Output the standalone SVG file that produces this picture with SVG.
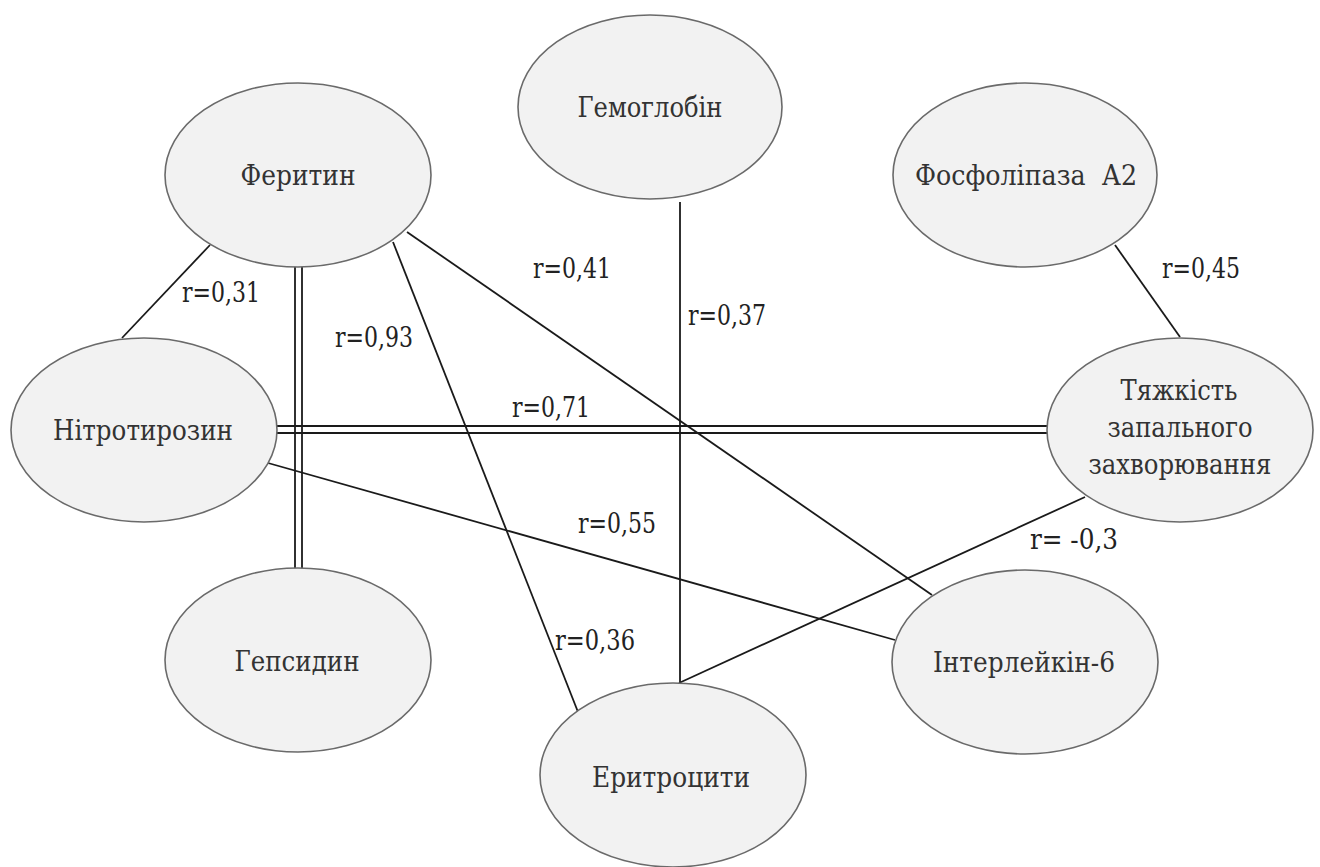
<svg xmlns="http://www.w3.org/2000/svg" width="1320" height="867" viewBox="0 0 1320 867">
<style>
.node ellipse{fill:#f2f2f2;stroke:#6a6a6a;stroke-width:1.6}
.node text{font-family:'DejaVu Serif',serif;font-size:27px;fill:#333;text-anchor:middle}
.edge{stroke:#1a1a1a;stroke-width:1.8;fill:none}
.lbl{font-family:'DejaVu Serif',serif;font-size:27px;fill:#222}
</style>
<rect width="1320" height="867" fill="#fff"/>
<g id="connectors">
<line class="edge" x1="210" y1="245" x2="122" y2="338"/>
<line class="edge" x1="295" y1="266" x2="295" y2="569"/>
<line class="edge" x1="302" y1="266" x2="302" y2="569"/>
<line class="edge" x1="393" y1="242" x2="578" y2="712"/>
<line class="edge" x1="407" y1="232" x2="932" y2="595"/>
<line class="edge" x1="680" y1="202" x2="680" y2="683"/>
<line class="edge" x1="1115" y1="245" x2="1180" y2="337"/>
<line class="edge" x1="276" y1="426" x2="1049" y2="426"/>
<line class="edge" x1="276" y1="433" x2="1049" y2="433"/>
<line class="edge" x1="268" y1="463" x2="895" y2="640"/>
<line class="edge" x1="679" y1="683" x2="1085" y2="497"/>
<text class="lbl" x="182" y="302" textLength="78" lengthAdjust="spacingAndGlyphs">r=0,31</text>
<text class="lbl" x="335" y="347" textLength="78" lengthAdjust="spacingAndGlyphs">r=0,93</text>
<text class="lbl" x="533" y="278" textLength="78" lengthAdjust="spacingAndGlyphs">r=0,41</text>
<text class="lbl" x="688" y="325" textLength="78" lengthAdjust="spacingAndGlyphs">r=0,37</text>
<text class="lbl" x="1162" y="278" textLength="78" lengthAdjust="spacingAndGlyphs">r=0,45</text>
<text class="lbl" x="512" y="417" textLength="78" lengthAdjust="spacingAndGlyphs">r=0,71</text>
<text class="lbl" x="578" y="533" textLength="78" lengthAdjust="spacingAndGlyphs">r=0,55</text>
<text class="lbl" x="1030" y="549" textLength="88" lengthAdjust="spacingAndGlyphs" xml:space="preserve">r= -0,3</text>
<text class="lbl" x="555" y="650" textLength="80" lengthAdjust="spacingAndGlyphs">r=0,36</text>
</g>
<g id="n-ferytyn" class="node"><ellipse cx="298" cy="175" rx="133" ry="92"/><text x="298" y="185" textLength="115" lengthAdjust="spacingAndGlyphs">Феритин</text></g>
<g id="n-hemoglobin" class="node"><ellipse cx="650" cy="107" rx="132" ry="92"/><text x="650" y="117" textLength="145" lengthAdjust="spacingAndGlyphs">Гемоглобін</text></g>
<g id="n-fosfolipaza" class="node"><ellipse cx="1025" cy="175" rx="132" ry="92"/><text x="1026" y="185" xml:space="preserve" textLength="222" lengthAdjust="spacingAndGlyphs">Фосфоліпаза  А2</text></g>
<g id="n-nitrotyrozyn" class="node"><ellipse cx="144" cy="430" rx="133" ry="92"/><text x="143" y="440" textLength="180" lengthAdjust="spacingAndGlyphs">Нітротирозин</text></g>
<g id="n-tiazhkist" class="node"><ellipse cx="1180" cy="430" rx="133" ry="92"/><text x="1179" y="400" textLength="117" lengthAdjust="spacingAndGlyphs">Тяжкість</text><text x="1180" y="437" textLength="145" lengthAdjust="spacingAndGlyphs">запального</text><text x="1180" y="474" textLength="183" lengthAdjust="spacingAndGlyphs">захворювання</text></g>
<g id="n-hepsydyn" class="node"><ellipse cx="298" cy="660" rx="133" ry="92"/><text x="297" y="671" textLength="125" lengthAdjust="spacingAndGlyphs">Гепсидин</text></g>
<g id="n-erytrotsyty" class="node"><ellipse cx="673" cy="775" rx="133" ry="92"/><text x="671" y="787" textLength="158" lengthAdjust="spacingAndGlyphs">Еритроцити</text></g>
<g id="n-interleikin" class="node"><ellipse cx="1025" cy="662" rx="133" ry="92"/><text x="1024" y="672" textLength="182" lengthAdjust="spacingAndGlyphs">Інтерлейкін-6</text></g>
</svg>
